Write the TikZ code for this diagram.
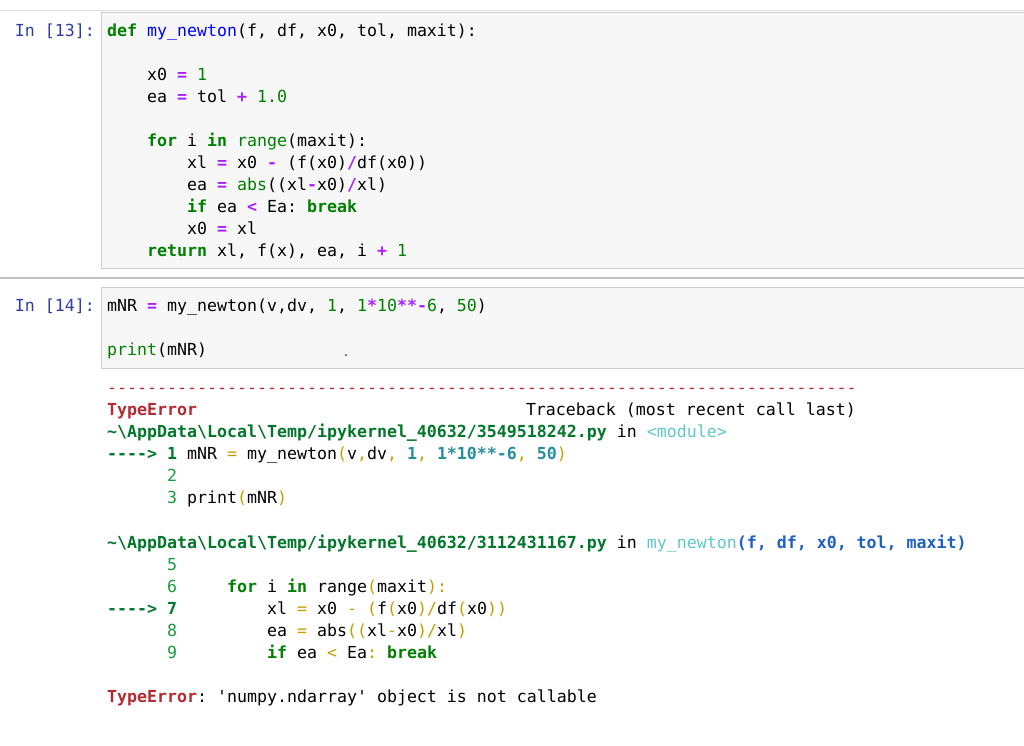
\documentclass[tikz,border=0pt]{standalone}
\usepackage{fontspec}
\setmonofont{DejaVu Sans Mono}
\definecolor{kw}{HTML}{008000}
\definecolor{op}{HTML}{AA22FF}
\definecolor{fn}{HTML}{0000FF}
\definecolor{prm}{HTML}{303F9F}
\definecolor{er}{HTML}{B22B31}
\definecolor{pth}{HTML}{00772A}
\definecolor{mod}{HTML}{60C6C8}
\definecolor{par}{HTML}{C0A000}
\definecolor{num}{HTML}{258F9D}
\definecolor{lno}{HTML}{1A9A40}
\definecolor{arg}{HTML}{2060C0}
\newcommand{\Kw}[1]{\textcolor{kw}{\bfseries #1}}
\newcommand{\Opr}[1]{\textcolor{op}{\bfseries #1}}
\newcommand{\Nm}[1]{\textcolor{kw}{#1}}
\newcommand{\Pa}[1]{\textcolor{par}{#1}}
\newcommand{\Tn}[1]{\textcolor{num}{#1}}
\begin{document}
\begin{tikzpicture}[x=1pt,y=-1pt,
  code/.style={anchor=base west,inner sep=0pt,font=\fontsize{16.6}{18}\ttfamily\selectfont},
  prompt/.style={anchor=base east,inner sep=0pt,font=\fontsize{16.6}{18}\ttfamily\selectfont,text=prm},
  cellbox/.style={draw=black!20,fill=black!3,line width=0.8pt}]
\useasboundingbox (0,0) rectangle (1024,745);
\fill[white] (0,0) rectangle (1024,745);
\draw[black!12,line width=1pt] (0,10) -- (1024,10);
\draw[black!25,line width=1.2pt] (0,278) -- (1024,278);
\path[cellbox] (101,12) rectangle (1030,268);
\path[cellbox] (101,287) rectangle (1030,368);
% cell 13
\node[prompt] (p13) at (95,36) {In [13]:};
\node[code] (a1) at (107,36) {\Kw{def} \textcolor{fn}{my\_newton}(f, df, x0, tol, maxit):};
\node[code] (a2) at (147,80) {x0 \Opr{=} \Nm{1}};
\node[code] (a3) at (147,102) {ea \Opr{=} tol \Opr{+} \Nm{1.0}};
\node[code] (a4) at (147,146) {\Kw{for} i \Kw{in} \Nm{range}(maxit):};
\node[code] (a5) at (187,168) {xl \Opr{=} x0 \Opr{-} (f(x0)\Opr{/}df(x0))};
\node[code] (a6) at (187,190) {ea \Opr{=} \Nm{abs}((xl\Opr{-}x0)\Opr{/}xl)};
\node[code] (a7) at (187,212) {\Kw{if} ea \Opr{<} Ea: \Kw{break}};
\node[code] (a8) at (187,234) {x0 \Opr{=} xl};
\node[code] (a9) at (147,256) {\Kw{return} xl, f(x), ea, i \Opr{+} \Nm{1}};
% cell 14
\node[prompt] (p14) at (95,311) {In [14]:};
\node[code] (b1) at (107,311) {mNR \Opr{=} my\_newton(v,dv, \Nm{1}, \Nm{1}\Opr{*}\Nm{10}\Opr{**-}\Nm{6}, \Nm{50})};
\node[code] (b2) at (107,355) {\Nm{print}(mNR)};
\fill[red!70!black] (346,355) circle (1pt);
% output
\node[code,text=er] (c0) at (107,393) {---------------------------------------------------------------------------};
\node[code] (c1) at (107,415) {\textcolor{er}{\bfseries TypeError}};
\node[code,anchor=base east] (c1b) at (856,415) {Traceback (most recent call last)};
\node[code] (c2) at (107,437) {\textcolor{pth}{\bfseries \string~\string\AppData\string\Local\string\Temp/ipykernel\_40632/3549518242.py} in \textcolor{mod}{<module>}};
\node[code] (c3) at (107,459) {\textcolor{pth}{\bfseries ----> 1} mNR \Pa{=} my\_newton\Pa{(}v\Pa{,}dv\Pa{,} \Tn{\bfseries 1}\Pa{,} \Tn{\bfseries 1*10**-6}\Pa{,} \Tn{\bfseries 50}\Pa{)}};
\node[code,text=lno] (c4) at (167,481) {2};
\node[code] (c5) at (167,503) {\textcolor{lno}{3} print\Pa{(}mNR\Pa{)}};
\node[code] (d1) at (107,548) {\textcolor{pth}{\bfseries \string~\string\AppData\string\Local\string\Temp/ipykernel\_40632/3112431167.py} in \textcolor{mod}{my\_newton}\textcolor{arg}{\bfseries (f, df, x0, tol, maxit)}};
\node[code,text=lno] (d2) at (167,570) {5};
\node[code] (d3) at (167,592) {\textcolor{lno}{6}};
\node[code] (d3b) at (227,592) {\Kw{for} i \Kw{in} range\Pa{(}maxit\Pa{):}};
\node[code] (d4) at (107,614) {\textcolor{pth}{\bfseries ----> 7}};
\node[code] (d4b) at (267,614) {xl \Pa{=} x0 \Pa{-} \Pa{(}f\Pa{(}x0\Pa{)/}df\Pa{(}x0\Pa{))}};
\node[code] (d5) at (167,636) {\textcolor{lno}{8}};
\node[code] (d5b) at (267,636) {ea \Pa{=} abs\Pa{((}xl\Pa{-}x0\Pa{)/}xl\Pa{)}};
\node[code] (d6) at (167,658) {\textcolor{lno}{9}};
\node[code] (d6b) at (267,658) {\Kw{if} ea \Pa{<} Ea\Pa{:} \Kw{break}};
\node[code] (e1) at (107,702) {\textcolor{er}{\bfseries TypeError}: 'numpy.ndarray' object is not callable};
\end{tikzpicture}
\end{document}
